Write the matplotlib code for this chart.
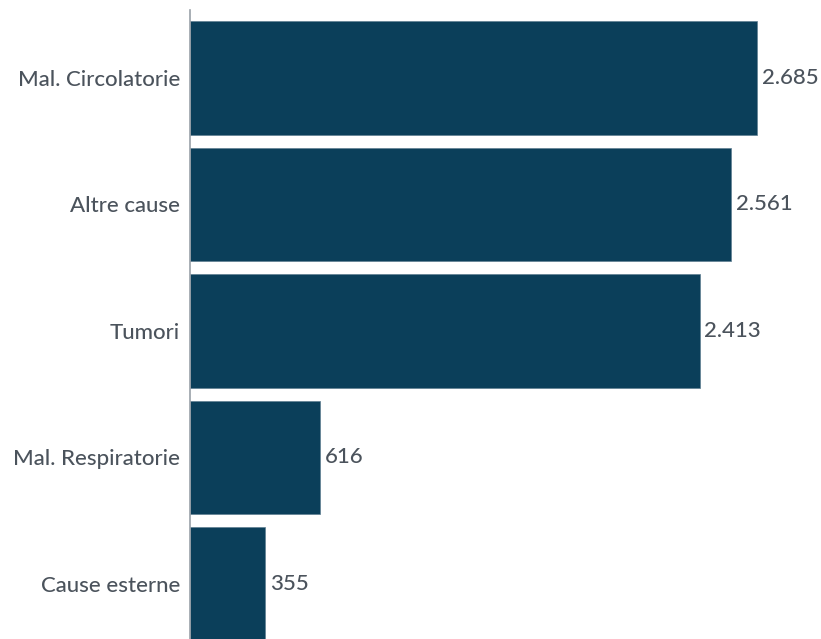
import matplotlib
matplotlib.use('Agg')
import matplotlib.pyplot as plt

# Decessi per causa
cause = ["Mal. Circolatorie", "Altre cause", "Tumori", "Mal. Respiratorie", "Cause esterne"]
decessi = [2685, 2561, 2413, 616, 355]

BAR_COLOR = '#0b3f5a'
TEXT_COLOR = '#4b535c'
FS = 16


def fmt_it(n):
    # separatore delle migliaia all'italiana
    return f"{n:,}".replace(",", ".")


plt.rcParams['font.family'] = ['Lato', 'DejaVu Sans']
plt.rcParams['font.weight'] = 'medium'

fig = plt.figure(figsize=(8.21, 6.39), dpi=100)
ax = fig.add_axes([0.2314, 0.0, 1 - 0.2314, 0.9844])

pos = list(range(len(cause)))
bars = ax.barh(pos, decessi, height=0.9, color=BAR_COLOR,
               edgecolor='#5f7f92', linewidth=0.5)

for b, v in zip(bars, decessi):
    ax.annotate(fmt_it(v), xy=(b.get_width(), b.get_y() + b.get_height() / 2),
                xytext=(3.5, 0), textcoords='offset points',
                va='center', ha='left', fontsize=FS, color=TEXT_COLOR)

ax.set_yticks(pos)
ax.set_yticklabels(cause, fontsize=FS, color=TEXT_COLOR)
ax.tick_params(axis='y', length=0, pad=7)
ax.set_xticks([])

ax.set_xlim(0, 2988)
ax.set_ylim(4.435, -0.5375)

for s in ['top', 'right', 'bottom']:
    ax.spines[s].set_visible(False)
ax.spines['left'].set_color('#9aa1a8')
ax.spines['left'].set_linewidth(1.2)

fig.savefig('out.png', dpi=100)
